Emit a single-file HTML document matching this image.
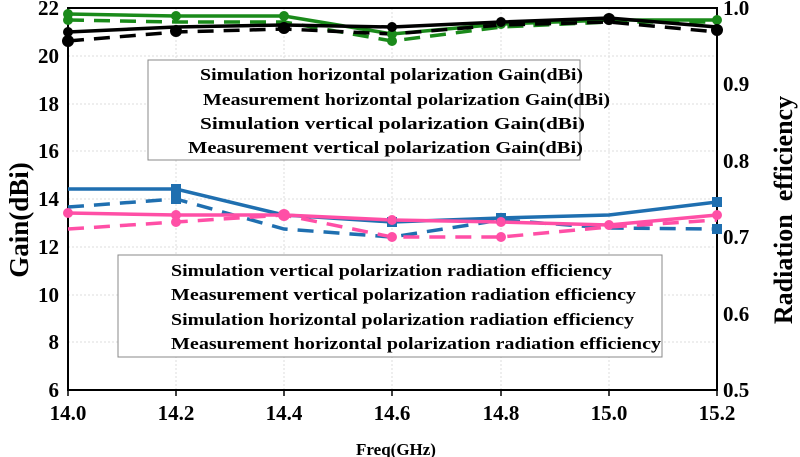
<!DOCTYPE html>
<html><head><style>body{margin:0;background:#fff}svg{display:block}</style></head><body>
<svg width="800" height="457" xmlns="http://www.w3.org/2000/svg" font-family="Liberation Serif, serif" font-weight="bold">
<g stroke="#ddd" stroke-dasharray="2,2" stroke-width="1">
<line x1="176" y1="8" x2="176" y2="390"/><line x1="284" y1="8" x2="284" y2="390"/><line x1="392" y1="8" x2="392" y2="390"/><line x1="501" y1="8" x2="501" y2="390"/><line x1="609" y1="8" x2="609" y2="390"/>
<line x1="68" y1="56" x2="717" y2="56"/><line x1="68" y1="104" x2="717" y2="104"/><line x1="68" y1="151" x2="717" y2="151"/><line x1="68" y1="199" x2="717" y2="199"/><line x1="68" y1="247" x2="717" y2="247"/><line x1="68" y1="295" x2="717" y2="295"/><line x1="68" y1="342" x2="717" y2="342"/>
</g>
<rect x="68" y="8" width="649" height="382" fill="none" stroke="#000" stroke-width="2"/>
<g stroke="#000" stroke-width="1.5">
<line x1="68" y1="390" x2="68" y2="396"/><line x1="176" y1="390" x2="176" y2="396"/><line x1="284" y1="390" x2="284" y2="396"/><line x1="392" y1="390" x2="392" y2="396"/><line x1="501" y1="390" x2="501" y2="396"/><line x1="609" y1="390" x2="609" y2="396"/><line x1="717" y1="390" x2="717" y2="396"/>
</g>
<g font-size="21" text-anchor="middle">
<text x="68" y="420">14.0</text><text x="176" y="420">14.2</text><text x="284" y="420">14.4</text><text x="392" y="420">14.6</text><text x="501" y="420">14.8</text><text x="609" y="420">15.0</text><text x="717" y="420">15.2</text>
</g>
<g font-size="21" text-anchor="end">
<text x="59" y="15">22</text><text x="59" y="63">20</text><text x="59" y="111">18</text><text x="59" y="158">16</text><text x="59" y="206">14</text><text x="59" y="254">12</text><text x="59" y="302">10</text><text x="59" y="349">8</text><text x="59" y="397">6</text>
</g>
<g font-size="21">
<text x="723" y="15">1.0</text><text x="723" y="91">0.9</text><text x="723" y="168">0.8</text><text x="723" y="244">0.7</text><text x="723" y="321">0.6</text><text x="723" y="397">0.5</text>
</g>
<text x="396" y="455" font-size="17" text-anchor="middle">Freq(GHz)</text>
<text transform="translate(28,220) rotate(-90)" font-size="27" text-anchor="middle">Gain(dBi)</text>
<text transform="translate(792,210) rotate(-90)" font-size="26" text-anchor="middle" xml:space="preserve">Radiation  efficiency</text>
<g fill="none" stroke-width="3.5">
<polyline stroke="#1a8a1a" points="68,14 176,16 284,16 392,34 501,24 609,20 717,20"/>
<polyline stroke="#1a8a1a" stroke-dasharray="16,10" points="68,20 176,22 284,22 392,41 501,27 609,22 717,22"/>
<polyline stroke="#000" points="68,32 176,27 284,25 392,27 501,22 609,18 717,27"/>
<polyline stroke="#000" stroke-dasharray="16,10" points="68,41 176,32 284,29 392,34 501,25 609,22 717,32"/>
<polyline stroke="#1f6fb0" points="68,189 176,189 284,215 392,222 501,218 609,215 717,202"/>
<polyline stroke="#1f6fb0" stroke-dasharray="16,10" points="68,207 176,199 284,229 392,237 501,220 609,228 717,229"/>
<polyline stroke="#ff4fa6" points="68,213 176,215 284,215 392,220 501,222 609,225 717,215"/>
<polyline stroke="#ff4fa6" stroke-dasharray="16,10" points="68,229 176,222 284,215 392,237 501,237 609,227 717,220"/>
</g>
<g fill="#1a8a1a"><circle cx="68" cy="14" r="5"/><circle cx="176" cy="16" r="5"/><circle cx="284" cy="16" r="5"/><circle cx="392" cy="34" r="5"/><circle cx="501" cy="24" r="5"/><circle cx="609" cy="20" r="5"/><circle cx="717" cy="20" r="5"/><circle cx="68" cy="20" r="5"/><circle cx="392" cy="41" r="5"/></g>
<g fill="#000"><circle cx="68" cy="32" r="5"/><circle cx="176" cy="31" r="6"/><circle cx="284" cy="28" r="6"/><circle cx="392" cy="27" r="5"/><circle cx="501" cy="22" r="5"/><circle cx="609" cy="19" r="6"/><circle cx="717" cy="30" r="6"/><circle cx="68" cy="41" r="6"/></g>
<g fill="#1f6fb0"><rect x="171" y="184" width="10" height="10"/><rect x="171" y="194" width="10" height="10"/><rect x="496" y="213" width="10" height="10"/><rect x="712" y="197" width="10" height="10"/><rect x="712" y="224" width="10" height="10"/><rect x="387" y="217" width="10" height="10"/></g>
<g fill="#ff4fa6"><circle cx="68" cy="213" r="5"/><circle cx="176" cy="215" r="5"/><circle cx="284" cy="215" r="6"/><circle cx="392" cy="220" r="5"/><circle cx="501" cy="222" r="5"/><circle cx="609" cy="225" r="5"/><circle cx="717" cy="215" r="5"/><circle cx="176" cy="222" r="5"/><circle cx="392" cy="237" r="5"/><circle cx="501" cy="237" r="5"/></g>
<rect x="148" y="60" width="432" height="100" fill="#fff" stroke="#888" stroke-width="1"/>
<g font-size="17" lengthAdjust="spacingAndGlyphs">
<text x="200" y="80" textLength="383" lengthAdjust="spacingAndGlyphs">Simulation horizontal polarization Gain(dBi)</text>
<text x="203" y="105" textLength="407" lengthAdjust="spacingAndGlyphs">Measurement horizontal polarization Gain(dBi)</text>
<text x="200" y="129" textLength="385" lengthAdjust="spacingAndGlyphs">Simulation vertical polarization Gain(dBi)</text>
<text x="188" y="153" textLength="395" lengthAdjust="spacingAndGlyphs">Measurement vertical polarization Gain(dBi)</text>
</g>
<rect x="118" y="255" width="544" height="102" fill="#fff" stroke="#888" stroke-width="1"/>
<g font-size="17" xml:space="preserve">
<text x="171" y="276" textLength="441" lengthAdjust="spacingAndGlyphs">Simulation vertical polarization radiation  efficiency</text>
<text x="171" y="300" textLength="465" lengthAdjust="spacingAndGlyphs">Measurement vertical polarization radiation  efficiency</text>
<text x="171" y="325" textLength="463" lengthAdjust="spacingAndGlyphs">Simulation horizontal polarization radiation  efficiency</text>
<text x="171" y="349" textLength="490" lengthAdjust="spacingAndGlyphs">Measurement horizontal polarization radiation  efficiency</text>
</g>
</svg>
</body></html>
